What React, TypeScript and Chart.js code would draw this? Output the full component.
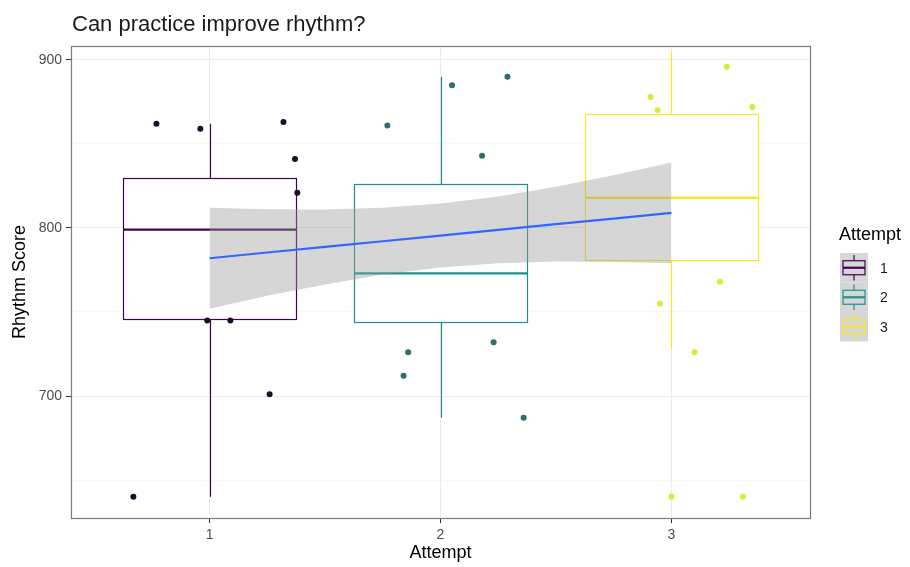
import React, { useEffect, useRef } from 'react';
import { Chart, registerables } from 'chart.js';

Chart.register(...registerables);

// ---- data ----
const attempts = [1, 2, 3];
const attemptLabels = ['1', '2', '3'];
const boxColors = ['#440154', '#21908C', '#FDE725'];
const pointColors = ['#1f0d2c', '#2c6f6b', '#d6ea3a'];

const boxQ1 = [746, 744, 781];
const boxMedian = [799, 773, 818];
const boxQ3 = [830, 826, 868];
const whiskerLow = [640, 687, 728];
const whiskerHigh = [862, 890, 905];

const attempt1X = [0.77, 0.96, 1.32, 1.37, 1.38, 0.99, 1.09, 1.26, 0.67];
const attempt1Y = [862, 859, 863, 841, 821, 745, 745, 701, 640];
const attempt2X = [1.77, 2.05, 2.29, 2.18, 1.86, 1.84, 2.23, 2.36];
const attempt2Y = [861, 885, 890, 843, 726, 712, 732, 687];
const attempt3X = [3.24, 2.91, 2.94, 3.35, 3.21, 2.95, 3.1, 3.0, 3.31];
const attempt3Y = [896, 878, 870, 872, 768, 755, 726, 640, 640];

const fitX = [1, 1.25, 1.5, 1.75, 2, 2.25, 2.5, 2.75, 3];
const fitY = [782, 785.4, 788.7, 792.1, 795.5, 798.9, 802.3, 805.6, 809];
const bandLow = [752, 759.6, 766.4, 772.3, 776.5, 779, 780, 779.8, 779];
const bandHigh = [812, 811.2, 811, 812, 814.5, 818.7, 824.6, 831.4, 839];

const xTicks = [1, 2, 3];
const yTicks = [700, 800, 900];
const yMinorTicks = [650, 750, 850];

const titleText = 'Can practice improve rhythm?';
const xTitle = 'Attempt';
const yTitle = 'Rhythm Score';
const legendTitle = 'Attempt';

const FONT = '"Liberation Sans", Arial, sans-serif';
const BOX_HALF = 0.375;

const zip = (xs: number[], ys: number[]) => xs.map((x, i) => ({ x, y: ys[i] }));

const boxPlugin = {
  id: 'boxes',
  beforeDatasetsDraw(chart: any) {
    const { ctx, chartArea } = chart;
    const xs = chart.scales.x;
    const ys = chart.scales.y;
    ctx.save();
    ctx.beginPath();
    ctx.rect(chartArea.left, chartArea.top, chartArea.right - chartArea.left, chartArea.bottom - chartArea.top);
    ctx.clip();
    attempts.forEach((a, i) => {
      const xl = Math.round(xs.getPixelForValue(a - BOX_HALF)) + 0.5;
      const xr = Math.round(xs.getPixelForValue(a + BOX_HALF)) + 0.5;
      const xc = Math.round(xs.getPixelForValue(a)) + 0.5;
      const yq1 = Math.round(ys.getPixelForValue(boxQ1[i])) + 0.5;
      const yq3 = Math.round(ys.getPixelForValue(boxQ3[i])) + 0.5;
      const ym = ys.getPixelForValue(boxMedian[i]);
      const ylo = ys.getPixelForValue(whiskerLow[i]);
      const yhi = ys.getPixelForValue(whiskerHigh[i]);
      ctx.strokeStyle = boxColors[i];
      ctx.lineWidth = 1.2;
      // whiskers
      ctx.beginPath();
      ctx.moveTo(xc, yq3);
      ctx.lineTo(xc, yhi);
      ctx.moveTo(xc, yq1);
      ctx.lineTo(xc, ylo);
      ctx.stroke();
      // box
      ctx.fillStyle = '#ffffff';
      ctx.fillRect(xl, yq3, xr - xl, yq1 - yq3);
      ctx.strokeRect(xl, yq3, xr - xl, yq1 - yq3);
      // median
      ctx.lineWidth = 2.4;
      ctx.beginPath();
      ctx.moveTo(xl, ym);
      ctx.lineTo(xr, ym);
      ctx.stroke();
    });
    ctx.restore();
  },
  afterDraw(chart: any) {
    const { ctx, chartArea } = chart;
    ctx.save();
    // panel border
    ctx.strokeStyle = '#7a7a7a';
    ctx.lineWidth = 1.2;
    ctx.strokeRect(chartArea.left + 0.5, chartArea.top + 0.5, chartArea.right - chartArea.left, chartArea.bottom - chartArea.top);

    // title
    ctx.fillStyle = '#1a1a1a';
    ctx.font = `22px ${FONT}`;
    ctx.textAlign = 'left';
    ctx.textBaseline = 'alphabetic';
    ctx.fillText(titleText, chartArea.left + 1, 31);

    // axis titles
    ctx.fillStyle = '#000000';
    ctx.font = `18px ${FONT}`;
    ctx.textAlign = 'center';
    ctx.textBaseline = 'middle';
    ctx.fillText(xTitle, (chartArea.left + chartArea.right) / 2, 553);
    ctx.save();
    ctx.translate(20, (chartArea.top + chartArea.bottom) / 2);
    ctx.rotate(-Math.PI / 2);
    ctx.fillText(yTitle, 0, 0);
    ctx.restore();

    // legend
    ctx.textAlign = 'left';
    ctx.fillText(legendTitle, 839, 235);
    const kx = 840;
    const kw = 28;
    const kh = 29.5;
    const ky0 = 253;
    ctx.font = `14px ${FONT}`;
    attemptLabels.forEach((lab, i) => {
      const top = ky0 + i * kh;
      const cy = top + kh / 2;
      ctx.fillStyle = '#d6d6d6';
      ctx.fillRect(kx, top, kw, kh);
      ctx.strokeStyle = boxColors[i];
      ctx.lineWidth = 1.2;
      const bx1 = kx + 3;
      const bx2 = kx + kw - 3;
      const bt = cy - 7;
      const bb = cy + 7;
      const cx = kx + kw / 2;
      ctx.beginPath();
      ctx.moveTo(cx, top + 2);
      ctx.lineTo(cx, bt);
      ctx.moveTo(cx, bb);
      ctx.lineTo(cx, top + kh - 2);
      ctx.stroke();
      ctx.strokeRect(bx1, bt, bx2 - bx1, bb - bt);
      ctx.lineWidth = 2.2;
      ctx.beginPath();
      ctx.moveTo(bx1, cy);
      ctx.lineTo(bx2, cy);
      ctx.stroke();
      ctx.fillStyle = '#1a1a1a';
      ctx.fillText(lab, 880, cy + 1);
    });
    ctx.restore();
  },
};

export default function App() {
  const canvasRef = useRef<HTMLCanvasElement | null>(null);

  useEffect(() => {
    const canvas = canvasRef.current;
    if (!canvas) return;
    const groupsX = [attempt1X, attempt2X, attempt3X];
    const groupsY = [attempt1Y, attempt2Y, attempt3Y];

    const chart = new Chart(canvas, {
      type: 'scatter',
      data: {
        datasets: [
          {
            type: 'line',
            label: 'fit',
            data: zip(fitX, fitY),
            borderColor: '#3366FF',
            borderWidth: 2.2,
            pointRadius: 0,
            fill: false,
            order: 0,
          } as any,
          {
            type: 'line',
            label: 'upper',
            data: zip(fitX, bandHigh),
            borderWidth: 0,
            borderColor: 'rgba(0,0,0,0)',
            backgroundColor: 'rgba(153,153,153,0.4)',
            pointRadius: 0,
            fill: '+1',
            order: 1,
          } as any,
          {
            type: 'line',
            label: 'lower',
            data: zip(fitX, bandLow),
            borderWidth: 0,
            borderColor: 'rgba(0,0,0,0)',
            pointRadius: 0,
            fill: false,
            order: 1,
          } as any,
          ...groupsX.map((gx, i) => ({
            type: 'scatter',
            label: attemptLabels[i],
            data: zip(gx, groupsY[i]),
            pointRadius: 3,
            pointBorderWidth: 0,
            pointBackgroundColor: pointColors[i],
            backgroundColor: pointColors[i],
            order: 2,
          })) as any,
        ],
      },
      plugins: [boxPlugin],
      options: {
        responsive: false,
        animation: false,
        devicePixelRatio: 1,
        events: [],
        layout: { padding: { top: 46, right: 100, left: 0, bottom: 0 } },
        plugins: {
          legend: { display: false },
          tooltip: { enabled: false },
          title: { display: false },
        },
        scales: {
          x: {
            type: 'linear',
            min: 0.4,
            max: 3.6,
            afterBuildTicks: (scale: any) => {
              scale.ticks = xTicks.map((v) => ({ value: v }));
            },
            afterFit: (scale: any) => {
              scale.height = 49;
            },
            ticks: {
              color: '#4d4d4d',
              font: { family: FONT, size: 14 },
              padding: 4,
              maxRotation: 0,
              autoSkip: false,
              callback: (v: any) => String(v),
            },
            grid: {
              color: '#ebebeb',
              lineWidth: 1,
              tickColor: '#333333',
              tickLength: 5,
            },
            border: { display: false },
          },
          y: {
            type: 'linear',
            min: 627.4,
            max: 908.3,
            afterBuildTicks: (scale: any) => {
              scale.ticks = [...yMinorTicks, ...yTicks].sort((a, b) => a - b).map((v) => ({ value: v }));
            },
            afterFit: (scale: any) => {
              scale.width = 71;
            },
            ticks: {
              color: '#4d4d4d',
              font: { family: FONT, size: 14 },
              padding: 4,
              autoSkip: false,
              callback: (v: any) => (yTicks.includes(Number(v)) ? String(v) : ''),
            },
            grid: {
              color: (c: any) => (c.tick && yTicks.includes(c.tick.value) ? '#ebebeb' : '#f4f4f4'),
              lineWidth: (c: any) => (c.tick && yTicks.includes(c.tick.value) ? 1 : 0.7),
              tickColor: (c: any) => (c.tick && yTicks.includes(c.tick.value) ? '#333333' : 'rgba(0,0,0,0)'),
              tickLength: 5,
            },
            border: { display: false },
          },
        },
      } as any,
    });
    return () => chart.destroy();
  }, []);

  return (
    <div style={{ position: 'fixed', left: 0, top: 0, width: 910, height: 567, background: '#fff' }}>
      <canvas ref={canvasRef} width={910} height={567} style={{ display: 'block', width: 910, height: 567 }} />
    </div>
  );
}
